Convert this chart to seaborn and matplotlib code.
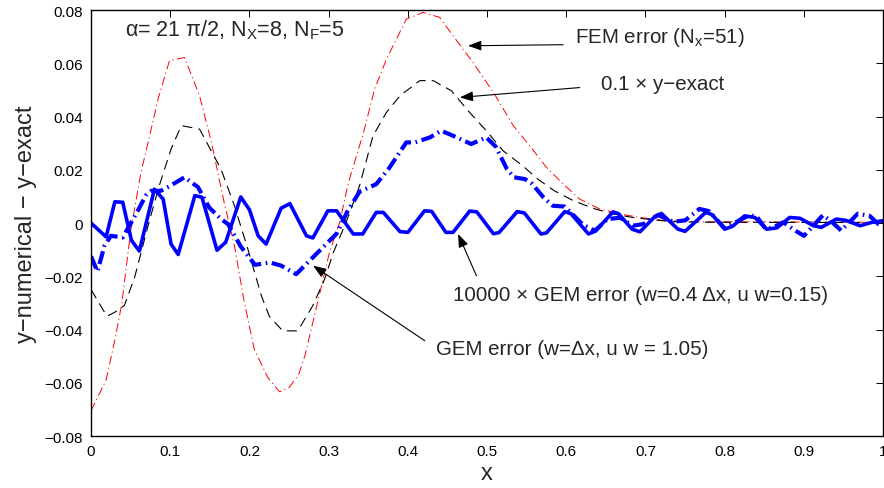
import matplotlib
matplotlib.use("Agg")
from matplotlib import pyplot as plt
import numpy as np
import pandas as pd
import seaborn as sns

# FEM error (N_x=51), red dash-dot
x_fem = [0, 0.019, 0.030, 0.039, 0.050, 0.063, 0.072, 0.085, 0.099, 0.118, 0.137,
         0.152, 0.168, 0.181, 0.193, 0.206, 0.223, 0.238, 0.250, 0.262, 0.270, 0.280,
         0.293, 0.301, 0.314, 0.325, 0.344, 0.358, 0.373, 0.398, 0.419, 0.440, 0.457,
         0.482, 0.508, 0.533, 0.554, 0.575, 0.596, 0.617, 0.642, 0.668, 0.693, 0.726,
         0.764, 1.0]
y_fem = [-0.0705, -0.0590, -0.0440, -0.0300, -0.0030, 0.0190, 0.0303, 0.0470, 0.0610,
         0.0622, 0.0478, 0.0303, 0.0078, -0.0085, -0.0290, -0.0473, -0.0580, -0.0634,
         -0.0618, -0.0570, -0.0498, -0.0373, -0.0210, -0.0110, 0.0003, 0.0153, 0.0340,
         0.0503, 0.0616, 0.0766, 0.0791, 0.0773, 0.0704, 0.0604, 0.0491, 0.0366, 0.0290,
         0.0209, 0.0147, 0.0090, 0.0053, 0.0034, 0.0021, 0.0009, 0.0005, 0.0003]

# 0.1 x y-exact, black dashed
x_exact = [0, 0.020, 0.030, 0.042, 0.055, 0.072, 0.085, 0.101, 0.114, 0.137, 0.164,
           0.181, 0.198, 0.215, 0.225, 0.242, 0.261, 0.280, 0.295, 0.306, 0.322, 0.339,
           0.356, 0.373, 0.390, 0.415, 0.432, 0.455, 0.476, 0.499, 0.520, 0.545, 0.564,
           0.585, 0.609, 0.634, 0.659, 0.684, 0.710, 0.735, 0.785, 1.0]
y_exact = [-0.0250, -0.0350, -0.0335, -0.0310, -0.0204, -0.0010, 0.0130, 0.0278, 0.0366,
           0.0353, 0.0203, 0.0065, -0.0098, -0.0273, -0.0350, -0.0405, -0.0405, -0.0310,
           -0.0210, -0.0110, 0.0003, 0.0140, 0.0328, 0.0416, 0.0478, 0.0535, 0.0535,
           0.0497, 0.0422, 0.0347, 0.0272, 0.0215, 0.0165, 0.0121, 0.0084, 0.0055, 0.0034,
           0.0021, 0.0012, 0.0005, 0.0003, 0.0002]

# GEM error (w=dx, u w=1.05), thick blue dash-dot
x_gem = [0, 0.008, 0.017, 0.025, 0.040, 0.059, 0.069, 0.076, 0.088, 0.100, 0.118,
         0.135, 0.149, 0.164, 0.173, 0.189, 0.207, 0.226, 0.240, 0.259, 0.280, 0.310,
         0.323, 0.339, 0.360, 0.376, 0.398, 0.409, 0.428, 0.442, 0.457, 0.480, 0.499,
         0.511, 0.525, 0.534, 0.548, 0.557, 0.571, 0.583, 0.598, 0.621, 0.636, 0.652,
         0.668, 0.684, 0.697, 0.716, 0.735, 0.750, 0.768, 0.780, 0.800, 0.812, 0.830,
         0.840, 0.852, 0.862, 0.874, 0.890, 0.900, 0.912, 0.924, 0.935, 0.947, 0.958,
         0.968, 0.983, 0.994, 1.0]
y_gem = [-0.0125, -0.0182, -0.0085, -0.0048, -0.0054, 0.0046, 0.0103, 0.0121, 0.0121,
         0.0140, 0.0172, 0.0135, 0.0059, 0.0015, -0.0004, -0.0088, -0.0157, -0.0148,
         -0.0160, -0.0192, -0.0129, -0.0040, 0.0040, 0.0118, 0.0146, 0.0205, 0.0303,
         0.0303, 0.0322, 0.0347, 0.0328, 0.0297, 0.0322, 0.0287, 0.0203, 0.0172, 0.0165,
         0.0147, 0.0097, 0.0065, 0.0062, -0.0006, -0.0029, 0.0015, 0.0020, -0.0010,
         -0.0004, 0.0030, 0.0005, 0.0010, 0.0053, 0.0045, -0.0020, 0.0000, 0.0028,
         0.0026, -0.0023, -0.0015, 0.0003, -0.0030, -0.0048, -0.0010, 0.0030, 0.0005,
         -0.0028, 0.0005, 0.0035, 0.0027, -0.0004, -0.0010]

# 10000 x GEM error (w=0.4 dx, u w=0.15), thick blue solid
x_gem4 = [0, 0.019, 0.030, 0.040, 0.051, 0.061, 0.080, 0.091, 0.101, 0.110, 0.131,
          0.140, 0.159, 0.170, 0.189, 0.200, 0.211, 0.221, 0.240, 0.251, 0.272, 0.280,
          0.299, 0.310, 0.331, 0.343, 0.360, 0.369, 0.390, 0.400, 0.421, 0.430, 0.448,
          0.457, 0.478, 0.487, 0.508, 0.515, 0.538, 0.547, 0.568, 0.575, 0.598, 0.606,
          0.628, 0.637, 0.659, 0.666, 0.683, 0.693, 0.712, 0.720, 0.741, 0.750, 0.776,
          0.784, 0.800, 0.810, 0.825, 0.838, 0.853, 0.866, 0.882, 0.895, 0.912, 0.922,
          0.941, 0.953, 0.971, 0.985, 1.0]
y_gem4 = [0.0000, -0.0052, 0.0080, 0.0078, -0.0065, -0.0105, 0.0127, 0.0090, -0.0079,
          -0.0118, 0.0103, 0.0097, -0.0102, -0.0072, 0.0098, 0.0050, -0.0048, -0.0079,
          0.0056, 0.0073, -0.0048, -0.0056, 0.0046, 0.0046, -0.0041, -0.0041, 0.0040,
          0.0040, -0.0032, -0.0035, 0.0046, 0.0044, -0.0035, -0.0035, 0.0045, 0.0042,
          -0.0040, -0.0036, 0.0043, 0.0038, -0.0041, -0.0037, 0.0043, 0.0035, -0.0041,
          -0.0030, 0.0042, 0.0035, -0.0023, -0.0033, 0.0025, 0.0036, -0.0023, -0.0031,
          0.0040, 0.0032, -0.0023, -0.0012, 0.0027, 0.0021, -0.0023, -0.0018, 0.0021,
          0.0018, -0.0010, -0.0016, 0.0015, 0.0010, -0.0010, 0.0002, 0.0009]

x_ticks = [0, 0.1, 0.2, 0.3, 0.4, 0.5, 0.6, 0.7, 0.8, 0.9, 1]
x_ticklabels = ["0", "0.1", "0.2", "0.3", "0.4", "0.5", "0.6", "0.7", "0.8", "0.9", "1"]
y_ticks = [-0.08, -0.06, -0.04, -0.02, 0, 0.02, 0.04, 0.06, 0.08]
y_ticklabels = ["\u22120.08", "\u22120.06", "\u22120.04", "\u22120.02", "0",
                "0.02", "0.04", "0.06", "0.08"]

sns.set_theme(style="white")
plt.rcParams['font.family'] = ['Liberation Sans', 'DejaVu Sans']
plt.rcParams['mathtext.fontset'] = 'custom'
plt.rcParams['mathtext.rm'] = 'Liberation Sans'
plt.rcParams['mathtext.it'] = 'Liberation Sans:italic'
plt.rcParams['axes.unicode_minus'] = True

fig = plt.figure(figsize=(8.84, 4.89), dpi=100)
ax = fig.add_axes([0.103, 0.1063, 0.896, 0.871])

# plot lines
sns.lineplot(x=x_fem, y=y_fem, ax=ax, color='red', linewidth=0.7,
             linestyle=(0, (9, 3.5, 1.2, 3.5)), sort=False, estimator=None)
sns.lineplot(x=x_exact, y=y_exact, ax=ax, color='black', linewidth=0.8,
             linestyle=(0, (9, 5.5)), sort=False, estimator=None)
sns.lineplot(x=x_gem, y=y_gem, ax=ax, color='#0000ff', linewidth=3,
             linestyle=(0, (3.2, 1.1, 0.4, 1.1)), sort=False, estimator=None)
sns.lineplot(x=x_gem4, y=y_gem4, ax=ax, color='#0000ff', linewidth=2.6,
             sort=False, estimator=None)

ax.set_xlim(0, 1)
ax.set_ylim(-0.08, 0.08)
ax.set_xticks(x_ticks)
ax.set_xticklabels(x_ticklabels)
ax.set_yticks(y_ticks)
ax.set_yticklabels(y_ticklabels)
ax.tick_params(direction='in', length=5, width=0.7, top=True, right=True,
               labelsize=11, colors='black', pad=6)
for sp in ax.spines.values():
    sp.set_visible(True)
    sp.set_color('black')
    sp.set_linewidth(1.0)

ax.set_xlabel('x', fontsize=17)
ax.set_ylabel('y\u2212numerical \u2212 y\u2212exact', fontsize=17)
ax.xaxis.set_label_coords(0.5, -0.06)
ax.yaxis.set_label_coords(-0.068, 0.5)

# annotations
arrow = dict(arrowstyle='-|>,head_length=0.8,head_width=0.3', color='black',
             lw=0.8, shrinkA=0, shrinkB=0, mutation_scale=10)
ax.text(0.0425, 0.0729, '\u03b1= 21 \u03c0/2, N$_\\mathrm{X}$=8, N$_\\mathrm{F}$=5',
        fontsize=15.5, va='center', ha='left')
ax.annotate('', xy=(0.476, 0.0666), xytext=(0.596, 0.0670), arrowprops=arrow)
ax.text(0.611, 0.0702, 'FEM error (N$_\\mathrm{x}$=51)', fontsize=14.8, va='center', ha='left')
ax.annotate('', xy=(0.4655, 0.0472), xytext=(0.617, 0.0509), arrowprops=arrow)
ax.text(0.644, 0.0524, '0.1 \u00d7 y\u2212exact', fontsize=14.8, va='center', ha='left')
ax.annotate('', xy=(0.4634, -0.0041), xytext=(0.4866, -0.0198), arrowprops=arrow)
ax.text(0.457, -0.0267, '10000 \u00d7 GEM error (w=0.4 \u0394x, u w=0.15)', fontsize=14.8,
        va='center', ha='left')
ax.annotate('', xy=(0.2803, -0.0160), xytext=(0.4213, -0.0442), arrowprops=arrow)
ax.text(0.436, -0.0473, 'GEM error (w=\u0394x, u w = 1.05)', fontsize=14.8,
        va='center', ha='left')

fig.savefig('out.png', dpi=100)
